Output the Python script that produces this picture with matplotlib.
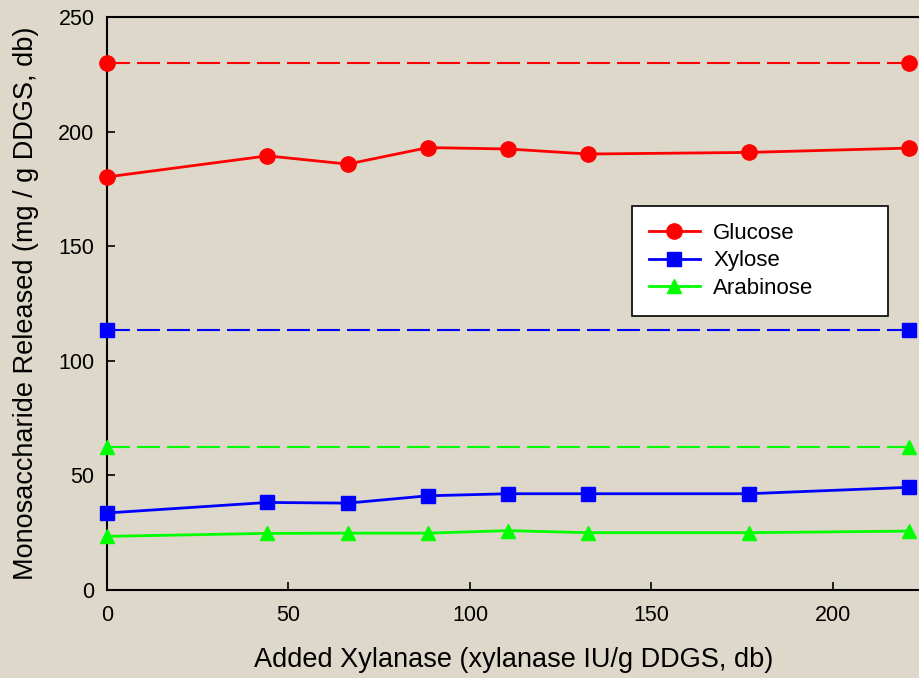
import matplotlib
matplotlib.use("Agg")
import matplotlib.pyplot as plt

# xylanase loading (IU/g DDGS, db)
xylanase = [0, 44.2, 66.3, 88.4, 110.5, 132.6, 176.8, 221]
glucose = [180.2, 189.4, 185.8, 193.0, 192.4, 190.2, 190.9, 192.8]
xylose = [33.6, 38.2, 37.9, 41.1, 42.0, 42.0, 42.0, 44.8]
arabinose = [23.4, 24.7, 24.8, 24.8, 25.9, 25.0, 25.0, 25.7]

# reference levels (dashed)
ref_x = [0, 221]
glucose_ref = [230, 230]
xylose_ref = [113.4, 113.4]
arabinose_ref = [62.5, 62.5]

plt.rcParams['font.family'] = ['Liberation Sans', 'DejaVu Sans']
bg = '#DDD8C9'

fig = plt.figure(figsize=(9.2, 6.78), dpi=100, facecolor=bg)
ax = fig.add_axes([0.1163, 0.1298, 1.0 - 0.1163, 0.975 - 0.1298])
ax.set_facecolor(bg)

series = [
    ('Glucose', glucose, glucose_ref, '#FF0000', 'o', 11),
    ('Xylose', xylose, xylose_ref, '#0000FF', 's', 9.5),
    ('Arabinose', arabinose, arabinose_ref, '#00FF00', '^', 10.5),
]

for name, vals, ref, color, marker, ms in series:
    ax.plot(xylanase, vals, color=color, lw=2, marker=marker, ms=ms,
            mec=color, mfc=color, label=name, clip_on=False, zorder=3)
    ax.plot(ref_x, ref, color=color, lw=1.5, dashes=(11, 3.4),
            marker=marker, ms=ms, mec=color, mfc=color, clip_on=False, zorder=3)

ax.set_xlim(0, 224)
ax.set_ylim(0, 250)
ax.set_xticks([0, 50, 100, 150, 200])
ax.set_yticks([0, 50, 100, 150, 200, 250])
ax.tick_params(direction='in', length=6, width=1.2, labelsize=15.5, pad=9)
ax.tick_params(axis='x', pad=11)
ax.spines['right'].set_visible(False)
for s in ['left', 'bottom', 'top']:
    ax.spines[s].set_linewidth(1.5)

ax.set_xlabel('Added Xylanase (xylanase IU/g DDGS, db)', fontsize=19.5, labelpad=15)
ax.set_ylabel('Monosaccharide Released (mg / g DDGS, db)', fontsize=19.5, labelpad=14)

# legend box spans roughly x 632..888 px, starting at y 206 px
leg = ax.legend(loc='upper left',
                bbox_to_anchor=(632 / 920, 1 - 206 / 678 - 0.2, 256 / 920, 0.2),
                bbox_transform=fig.transFigure, borderaxespad=0, mode='expand',
                fontsize=16, fancybox=False, framealpha=1, edgecolor='black',
                handlelength=2.3, handletextpad=0.6, labelspacing=0.3,
                borderpad=0.75)
leg.get_frame().set_linewidth(1.2)

fig.savefig('out.png', dpi=100, facecolor=bg)
